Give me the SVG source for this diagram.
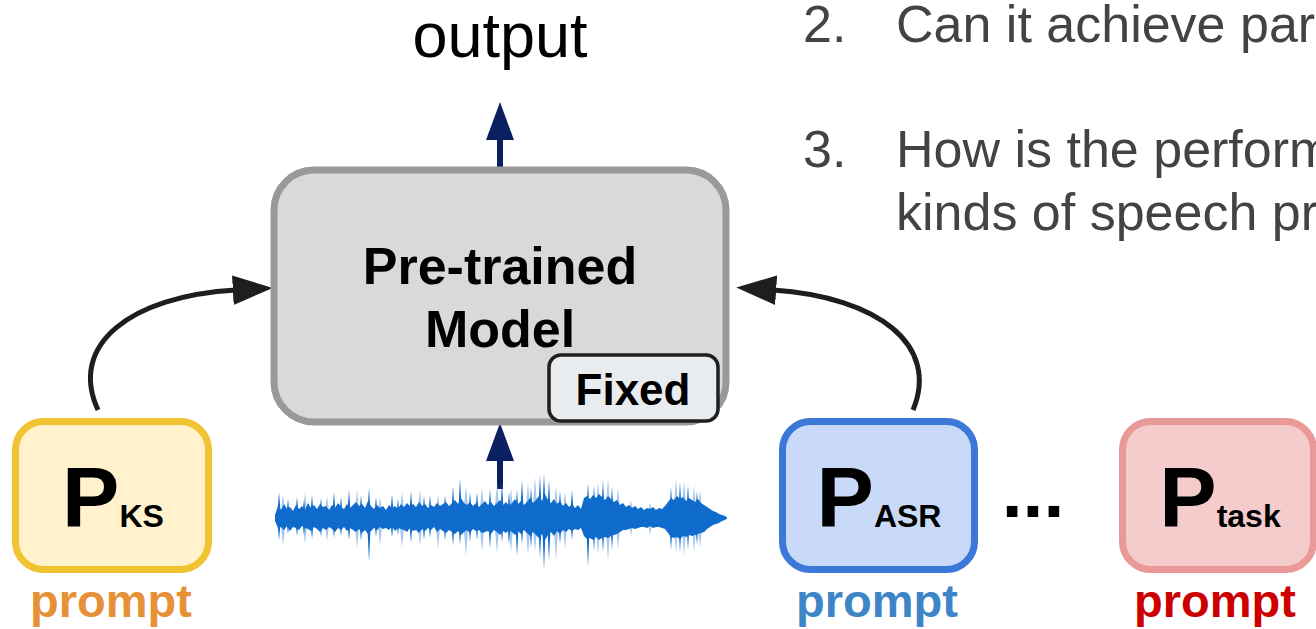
<svg xmlns="http://www.w3.org/2000/svg" width="1316" height="629" viewBox="0 0 1316 629">
  <style>
    .sans { font-family: "Liberation Sans", Arial, sans-serif; }
    .bold { font-weight: bold; }
    .box { stroke-width: 7; }
    .big { font-size: 86px; }
    .sub { font-size: 32px; }
    .label { font-size: 47px; font-weight: bold; text-anchor: middle; }
    .q { font-size: 52px; fill: #434343; }
    .curve { fill: none; stroke: #1e1e1e; stroke-width: 5; }
    .up { fill: #0b2060; }
  </style>
  <defs>
    <marker id="head" markerUnits="userSpaceOnUse" markerWidth="40" markerHeight="30" viewBox="0 0 38 28" refX="3" refY="14" orient="auto">
      <path d="M0,0 L38,14 L0,28 z" fill="#1e1e1e"/>
    </marker>
  </defs>

  <rect width="1316" height="629" fill="#ffffff"/>

  <!-- questions text -->
  <g id="questions" class="sans q">
    <text x="803" y="42">2.</text>
    <text x="896" y="42">Can it achieve par</text>
    <text x="803" y="167">3.</text>
    <text x="896" y="167">How is the perform</text>
    <text x="896" y="230">kinds of speech pr</text>
  </g>

  <!-- output label -->
  <g id="output">
    <text x="500" y="57" class="sans" font-size="63" text-anchor="middle" fill="#000">output</text>
  </g>

  <!-- connectors -->
  <g id="connectors">
    <!-- model output arrow -->
    <rect x="497" y="138" width="6" height="31" class="up"/>
    <polygon points="500,102 514,140 486,140" class="up"/>
    <!-- audio input arrow -->
    <rect x="497" y="459" width="6" height="30" class="up"/>
    <polygon points="500,423 514,461 486,461" class="up"/>
    <!-- prompt arrows -->
    <path d="M98,410 C68,345 130,296 236,290" class="curve" marker-end="url(#head)"/>
    <path d="M913,410 C940,345 878,297 773,290" class="curve" marker-end="url(#head)"/>
  </g>

  <!-- frozen model -->
  <g id="model">
    <rect x="274" y="170" width="452" height="252" rx="40" fill="#d9d9d9" stroke="#999999" class="box"/>
    <text x="500" y="284" class="sans bold" font-size="52" text-anchor="middle">Pre-trained</text>
    <text x="500" y="347" class="sans bold" font-size="52" text-anchor="middle">Model</text>
  </g>
  <g id="fixed">
    <rect x="549" y="355" width="169" height="66" rx="12" fill="#e9ecef" stroke="#1f1f1f" stroke-width="3.5"/>
    <text x="633" y="405" class="sans bold" font-size="44" text-anchor="middle">Fixed</text>
  </g>

  <!-- speech waveform: light halo spikes, dense body, dark spikes -->
  <g id="waveform">
    <path fill="#a7c8ee" d="M280 518L283 495L286 518L283 545Z M302 518L305 493L308 518L305 544Z M324 518L327 496L330 518L327 541Z M354 518L357 490L360 518L357 548Z M377 518L380 497L383 518L380 545Z M399 518L402 492L405 518L402 548Z M417 518L420 490L423 518L420 546Z M435 518L438 494L441 518L438 549Z M463 518L466 485L469 518L466 556Z M479 518L482 487L485 518L482 552Z M494 518L497 483L500 518L497 553Z M508 518L511 488L514 518L511 552Z M525 518L528 482L531 518L528 556Z M532 518L535 477L538 518L535 552Z M553 518L556 486L559 518L556 560Z M562 518L565 492L568 518L565 549Z M595 518L598 482L601 518L598 555Z M605 518L608 478L611 518L608 560Z M615 518L618 488L621 518L618 549Z M628 518L631 500L634 518L631 536Z M647 518L650 502L653 518L650 535Z M673 518L676 478L679 518L676 553Z M681 518L684 480L687 518L684 556Z M691 518L694 486L697 518L694 552Z M697 518L700 490L703 518L700 548Z"/>
    <polygon fill="#0f6bcc" points="275,515 278,506 281,510 284,504 287,509 290,507 293,511 296,505 299,509 302,506 305,510 308,503 311,508 314,505 317,509 320,504 323,507 326,506 329,510 332,505 335,508 338,503 341,507 344,509 347,504 350,508 353,505 356,502 359,506 362,504 365,508 368,501 371,506 374,509 377,505 380,508 383,506 386,510 389,505 392,508 395,506 398,509 401,504 404,507 407,503 410,506 413,504 416,507 419,502 422,506 425,504 428,508 431,505 434,507 437,503 440,506 443,504 446,502 449,506 452,503 455,500 458,504 461,498 464,503 467,505 470,502 473,506 476,503 479,507 482,504 485,501 488,505 491,502 494,506 497,503 500,500 503,505 506,502 509,506 512,503 515,499 518,504 521,501 524,505 527,502 530,498 533,503 536,500 539,496 542,501 545,494 548,500 551,503 554,499 557,504 560,501 563,506 566,503 569,507 572,504 575,508 578,505 581,509 584,498 587,496 590,499 593,495 596,498 599,494 602,497 605,500 608,496 611,499 614,502 617,500 620,505 623,503 626,507 629,505 632,508 635,506 638,509 641,507 644,510 647,508 650,509 653,507 656,510 659,508 662,509 665,506 668,502 671,498 674,500 677,496 680,499 683,497 686,501 689,498 692,500 695,502 698,499 701,503 704,505 707,507 710,509 713,511 716,512 719,514 722,515 725,516 727,517.5 727,518.5 725,520 722,521 719,523 716,524 713,525 710,527 707,529 704,532 701,533 698,534 695,535 692,536 689,535 686,537 683,536 680,539 677,537 674,538 671,537 668,533 665,529 662,528 659,527 656,527 653,528 650,526 647,528 644,527 641,527 638,528 635,529 632,528 629,529 626,530 623,530 620,532 617,534 614,535 611,536 608,538 605,537 602,538 599,540 596,537 593,540 590,538 587,539 584,536 581,528 578,530 575,529 572,531 569,529 566,532 563,530 560,534 557,531 554,536 551,532 548,535 545,540 542,534 539,538 536,535 533,532 530,536 527,533 524,530 521,534 518,531 515,535 512,532 509,530 506,533 503,531 500,535 497,532 494,530 491,534 488,531 485,532 482,533 479,530 476,531 473,529 470,533 467,530 464,532 461,535 458,531 455,534 452,532 449,530 446,533 443,531 440,529 437,532 434,527 431,530 428,528 425,531 422,529 419,533 416,530 413,531 410,528 407,532 404,530 401,529 398,528 395,531 392,526 389,530 386,528 383,529 380,527 377,530 374,528 371,531 368,534 365,530 362,533 359,529 356,532 353,530 350,528 347,531 344,527 341,530 338,528 335,532 332,529 329,527 326,530 323,528 320,532 317,529 314,527 311,531 308,529 305,528 302,526 299,530 296,528 293,527 290,531 287,526 284,530 281,527 278,528 275,521"/>
    <path fill="#0f6bcc" d="M277 518L279 492L281 518L279 540Z M286 518L288 499L290 518L288 534Z M295 518L297 497L299 518L297 536Z M302 518L304 500L306 518L304 535Z M310 518L312 495L314 518L312 539Z M319 518L321 498L323 518L321 537Z M332 518L334 492L336 518L334 538Z M339 518L341 497L343 518L341 536Z M347 518L349 490L351 518L349 540Z M359 518L361 495L363 518L361 541Z M367 518L369 488L371 518L369 562Z M374 518L376 497L378 518L376 537Z M390 518L392 494L394 518L392 538Z M396 518L398 499L400 518L398 535Z M409 518L411 491L413 518L411 543Z M422 518L424 496L426 518L424 540Z M428 518L430 495L432 518L430 538Z M443 518L445 495L447 518L445 541Z M451 518L453 486L455 518L453 546Z M458 518L460 478L462 518L460 545Z M468 518L470 492L472 518L470 542Z M475 518L477 492L479 518L477 540Z M488 518L490 489L492 518L490 548Z M500 518L502 483L504 518L502 542Z M507 518L509 492L511 518L509 545Z M515 518L517 490L519 518L517 556Z M520 518L522 480L524 518L522 544Z M529 518L531 487L533 518L531 548Z M538 518L540 475L542 518L540 558Z M542 518L544 473L546 518L544 570Z M547 518L549 480L551 518L549 560Z M558 518L560 491L562 518L560 544Z M570 518L572 490L574 518L572 540Z M586 518L588 483L590 518L588 567Z M592 518L594 486L596 518L594 551Z M601 518L603 480L605 518L603 552Z M610 518L612 487L614 518L612 550Z M669 518L671 487L673 518L671 550Z M678 518L680 482L682 518L680 552Z M686 518L688 485L690 518L688 549Z M695 518L697 491L699 518L697 545Z"/>
  </g>

  <!-- keyword spotting prompt -->
  <g id="prompt-ks">
    <rect x="15.5" y="421.5" width="193" height="148" rx="28" fill="#fff2cc" stroke="#f1c232" class="box"/>
    <text x="113" y="527" class="sans bold" text-anchor="middle"><tspan class="big">P</tspan><tspan class="sub">KS</tspan></text>
    <text x="111" y="617" class="sans label" fill="#e69138">prompt</text>
  </g>

  <!-- speech recognition prompt -->
  <g id="prompt-asr">
    <rect x="782.5" y="421.5" width="192" height="148" rx="28" fill="#c9daf8" stroke="#3c78d8" class="box"/>
    <text x="879" y="527" class="sans bold" text-anchor="middle"><tspan class="big">P</tspan><tspan class="sub">ASR</tspan></text>
    <text x="877" y="617" class="sans label" fill="#3d85c6">prompt</text>
  </g>

  <!-- ellipsis between prompts -->
  <g id="ellipsis">
    <text x="1033" y="517" class="sans bold" font-size="75" text-anchor="middle">...</text>
  </g>

  <!-- generic task prompt -->
  <g id="prompt-task">
    <rect x="1122.5" y="421.5" width="191" height="148" rx="28" fill="#f4cccc" stroke="#ea9999" class="box"/>
    <text x="1220" y="527" class="sans bold" text-anchor="middle"><tspan class="big">P</tspan><tspan class="sub">task</tspan></text>
    <text x="1215" y="617" class="sans label" fill="#cc0000">prompt</text>
  </g>
</svg>
